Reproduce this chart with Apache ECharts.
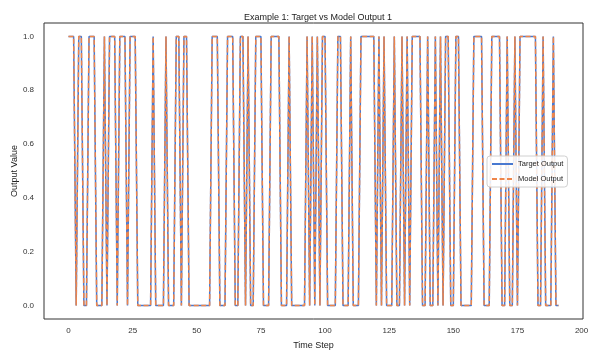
<!DOCTYPE html>
<html>
<head>
<meta charset="utf-8">
<script src="https://cdn.jsdelivr.net/npm/echarts@6/dist/echarts.min.js"></script>
<style>
  html, body { margin: 0; padding: 0; background: #fff; }
  #chart { width: 598px; height: 359px; }
</style>
</head>
<body>
<div id="chart"></div>
<script>
// values, one per time step
var targetOutput = [
  1,1,1,0,1,1,0,0,1,1,
  1,0,0,0,1,0,1,1,1,0,
  1,1,1,0,1,1,1,0,0,0,
  0,0,0,1,0,0,0,0,1,0,
  0,0,1,1,0,1,1,0,0,0,
  0,0,0,0,0,0,1,1,1,0,
  0,0,1,1,1,0,0,1,1,0,
  1,0,0,1,1,1,0,0,0,1,
  1,1,1,0,0,0,1,0,0,0,
  0,0,0,1,0,1,0,1,0,1,
  1,0,0,0,0,1,1,0,0,0,
  1,0,0,0,1,1,1,1,1,1,
  0,1,0,1,0,0,0,1,0,0,
  1,0,1,0,1,1,1,1,0,0,
  1,0,0,1,0,1,0,1,1,0,
  0,1,1,0,0,0,0,0,1,1,
  1,1,0,0,0,1,1,1,1,0,
  0,1,0,0,1,0,1,1,1,1,
  1,1,1,0,0,1,0,0,0,1,
  0,0
];
var modelOutput = [
  1,1,1,0,1,1,0,0,1,1,
  1,0,0,0,1,0,1,1,1,0,
  1,1,1,0,1,1,1,0,0,0,
  0,0,0,1,0,0,0,0,1,0,
  0,0,1,1,0,1,1,0,0,0,
  0,0,0,0,0,0,1,1,1,0,
  0,0,1,1,1,0,0,1,1,0,
  1,0,0,1,1,1,0,0,0,1,
  1,1,1,0,0,0,1,0,0,0,
  0,0,0,1,0,1,0,1,0,1,
  1,0,0,0,0,1,1,0,0,0,
  1,0,0,0,1,1,1,1,1,1,
  0,1,0,1,0,0,0,1,0,0,
  1,0,1,0,1,1,1,1,0,0,
  1,0,0,1,0,1,0,1,1,0,
  0,1,1,0,0,0,0,0,1,1,
  1,1,0,0,0,1,1,1,1,0,
  0,1,0,0,1,0,1,1,1,1,
  1,1,1,0,0,1,0,0,0,1,
  0,0
];
var xTicks = [0, 25, 50, 75, 100, 125, 150, 175, 200];
var yTicks = [0, 0.2, 0.4, 0.6, 0.8, 1.0];

function toPairs(arr) {
  return arr.map(function (v, i) { return [i, v]; });
}

var chart = echarts.init(document.getElementById('chart'));
var labelFont = { color: '#333', fontSize: 8, fontFamily: 'Liberation Sans' };
var option = {
  animation: false,
  title: {
    text: 'Example 1: Target vs Model Output 1',
    left: 313,
    textAlign: 'center',
    top: 8,
    textStyle: { fontSize: 9, fontWeight: 'normal', color: '#222', fontFamily: 'Liberation Sans' }
  },
  grid: {
    left: 44, right: 15, top: 23, bottom: 40,
    outerBoundsMode: 'none',
    show: true, borderColor: '#333', borderWidth: 1, backgroundColor: '#fff'
  },
  legend: {
    orient: 'vertical',
    left: 487,
    top: 156,
    itemWidth: 21,
    itemHeight: 8,
    itemGap: 7,
    padding: [4, 4, 4, 4],
    backgroundColor: 'rgba(255,255,255,0.85)',
    borderColor: '#d0d0d0',
    borderWidth: 1,
    borderRadius: 3,
    itemStyle: { opacity: 0 },
    textStyle: { fontSize: 7.5, color: '#222', fontFamily: 'Liberation Sans' },
    data: ['Target Output', 'Model Output']
  },
  xAxis: {
    type: 'value',
    min: -9.55,
    max: 200.55,
    name: 'Time Step',
    nameLocation: 'middle',
    nameGap: 22,
    nameMoveOverlap: false,
    nameTextStyle: { fontSize: 9, color: '#222', fontFamily: 'Liberation Sans' },
    axisLine: { show: false },
    axisTick: { show: false },
    splitLine: { show: false },
    axisLabel: Object.assign({ customValues: xTicks, margin: 8 }, labelFont)
  },
  yAxis: {
    type: 'value',
    min: -0.05,
    max: 1.05,
    name: 'Output Value',
    nameLocation: 'middle',
    nameGap: 25,
    nameMoveOverlap: false,
    nameTextStyle: { fontSize: 9, color: '#222', fontFamily: 'Liberation Sans' },
    axisLine: { show: false },
    axisTick: { show: false },
    splitLine: { show: false },
    axisLabel: Object.assign({
      customValues: yTicks,
      margin: 10,
      formatter: function (v) { return v.toFixed(1); }
    }, labelFont)
  },
  series: [{
    name: 'Target Output',
    type: 'line',
    data: toPairs(targetOutput),
    showSymbol: false,
    symbol: 'none',
    color: '#4878d0',
    lineStyle: { width: 1.5, color: '#4878d0' }
  }, {
    name: 'Model Output',
    type: 'line',
    data: toPairs(modelOutput),
    showSymbol: false,
    symbol: 'none',
    color: '#ee854a',
    lineStyle: { width: 1.5, color: '#ee854a', type: [5, 2.5] }
  }]
};
chart.setOption(option);
</script>
</body>
</html>
